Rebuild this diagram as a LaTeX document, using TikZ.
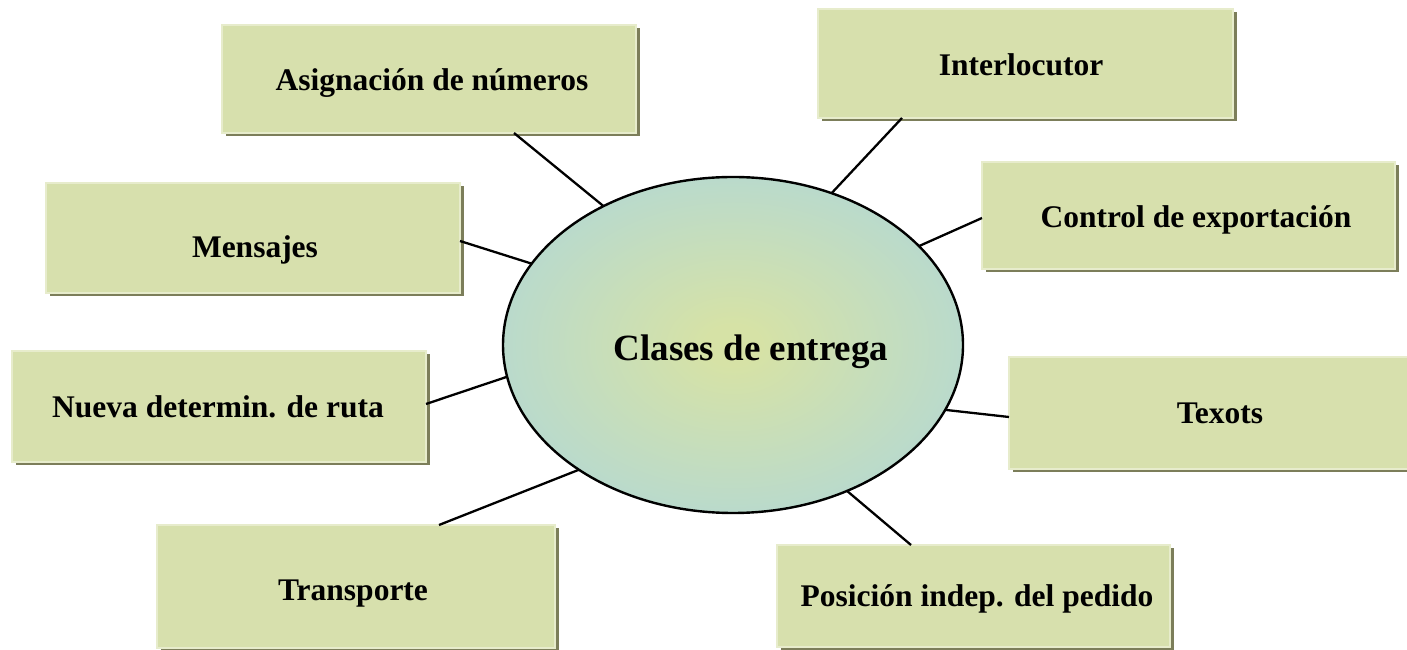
\documentclass[tikz,border=0pt]{standalone}
\usepackage{fontspec}
\setmainfont{Liberation Serif}
\usetikzlibrary{shapes.geometric,shadows}
\definecolor{boxfill}{HTML}{D7E0AD}
\definecolor{boxlight}{HTML}{E7ECCC}
\definecolor{boxshadow}{HTML}{7C7E5A}
\definecolor{ellin}{HTML}{D6E2A6}
\definecolor{ellout}{HTML}{B2D8D6}
\pgfdeclareradialshading{ellshade}{\pgfpoint{0bp}{0bp}}{color(0bp)=(ellin); color(3bp)=(ellin); color(31bp)=(ellout); color(50bp)=(ellout)}
\tikzset{
  topicbox/.style={rectangle, fill=boxfill, draw=boxlight, line width=1.5pt, inner sep=0pt, outer sep=0pt,
    drop shadow={shadow xshift=3.5pt, shadow yshift=-3.5pt, fill=boxshadow, opacity=1}},
  topictext/.style={anchor=base, inner sep=0pt, font=\fontsize{31.5}{36}\selectfont\bfseries},
  centertext/.style={anchor=base, inner sep=0pt, font=\fontsize{37}{42}\selectfont\bfseries},
  link/.style={draw=black, line width=2.3pt}
}
\begin{document}
\begin{tikzpicture}[x=1pt,y=1pt]
\useasboundingbox[fill=white] (0,0) rectangle (1407,650);
% boxes
\node[topicbox, minimum width=414pt, minimum height=108pt] (asig) at (429,571) {};
\node[topicbox, minimum width=415pt, minimum height=109pt] (inter) at (1025.5,586.5) {};
\node[topicbox, minimum width=414pt, minimum height=110pt] (mens) at (253,412) {};
\node[topicbox, minimum width=413pt, minimum height=107pt] (ctrl) at (1188.5,434.5) {};
\node[topicbox, minimum width=414pt, minimum height=111pt] (nueva) at (219,243.5) {};
\node[topicbox, minimum width=403pt, minimum height=112pt] (texots) at (1210.5,237) {};
\node[topicbox, minimum width=398pt, minimum height=123pt] (transp) at (356,63.5) {};
\node[topicbox, minimum width=393pt, minimum height=102pt] (posic) at (973.5,54) {};
% central ellipse
\node[ellipse, draw=black, line width=2.4pt, shading=ellshade, minimum width=460pt, minimum height=336pt, inner sep=0pt, outer sep=0pt] (ell) at (733,305) {};
% texts
\node[topictext] (tasig) at (432,559) {Asignación de números};
\node[topictext] (tinter) at (1021,574) {Interlocutor};
\node[topictext] (tmens) at (255,392) {Mensajes};
\node[topictext] (tctrl) at (1196,422) {Control de exportación};
\node[topictext] (tnueva) at (218,232) {Nueva determin. de ruta};
\node[topictext] (ttexots) at (1220,226) {Texots};
\node[topictext] (ttransp) at (353,49) {Transporte};
\node[topictext] (tposic) at (977,43) {Posición indep. del pedido};
\node[centertext] (tcenter) at (751,289) {Clases de entrega};
% connectors
\draw[link] ([xshift=85pt]asig.south) -- (ell.133.3);
\draw[link] ([xshift=-123.5pt]inter.south) -- (ell.57.1);
\draw[link] ([yshift=-3pt]mens.east) -- (ell.158.2);
\draw[link] ([yshift=-2.5pt]ctrl.west) -- (ell.28.1);
\draw[link] ([yshift=2.5pt]nueva.east) -- (ell.188.7);
\draw[link] ([yshift=-4pt]texots.west) -- (ell.343);
\draw[link] ([xshift=83pt]transp.north) -- (ell.219.4);
\draw[link] ([xshift=-62.5pt]posic.north) -- (ell.308.9);
\end{tikzpicture}
\end{document}
